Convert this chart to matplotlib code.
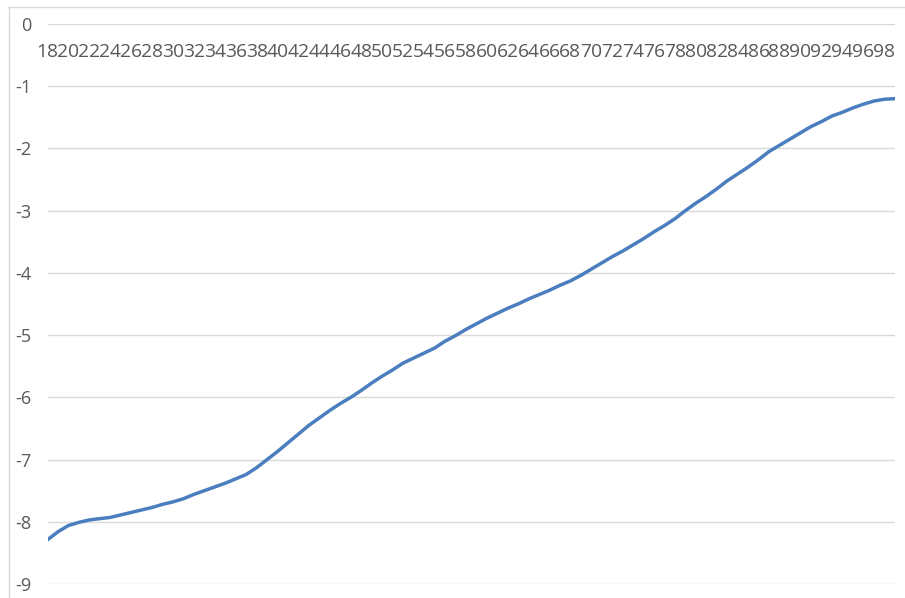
import matplotlib
matplotlib.use("Agg")
import matplotlib.pyplot as plt
from matplotlib.lines import Line2D

plt.rcParams["font.family"] = ["Open Sans", "DejaVu Sans"]
plt.rcParams["axes.unicode_minus"] = False

# Two-digit year categories along the horizontal axis
categories = list(range(18, 100))

values = [
    -8.29, -8.16, -8.06, -8.01, -7.97, -7.95, -7.93, -7.89, -7.85, -7.81,
    -7.77, -7.72, -7.68, -7.63, -7.56, -7.50, -7.44, -7.38, -7.31, -7.24,
    -7.13, -7.00, -6.87, -6.73, -6.59, -6.45, -6.33, -6.21, -6.10, -6.00,
    -5.89, -5.77, -5.66, -5.56, -5.45, -5.37, -5.29, -5.21, -5.10, -5.01,
    -4.91, -4.82, -4.73, -4.65, -4.57, -4.50, -4.42, -4.35, -4.28, -4.20,
    -4.13, -4.04, -3.94, -3.84, -3.74, -3.65, -3.55, -3.45, -3.34, -3.24,
    -3.13, -3.00, -2.88, -2.77, -2.65, -2.52, -2.41, -2.30, -2.18, -2.05,
    -1.95, -1.85, -1.75, -1.65, -1.57, -1.48, -1.42, -1.35, -1.29, -1.24,
    -1.21, -1.20,
]

x_ticks = categories[::2]
x_labels = [str(c) for c in x_ticks]
y_ticks = list(range(-9, 1))

W, H = 905, 598
fig = plt.figure(figsize=(W / 100, H / 100), dpi=100)
left, right, top, bottom = 47.5, 894.5, 24, 584
ax = fig.add_axes([left / W, 1 - bottom / H, (right - left) / W, (bottom - top) / H])

text_color = "#595959"
grid_color = "#D9D9D9"

ax.plot(categories, values, color="#4A7EBF", linewidth=2.5, solid_capstyle="round")

ax.set_xlim(categories[0], categories[-1])
ax.set_ylim(-9, 0)
ax.set_yticks(y_ticks)
ax.set_xticks(x_ticks)
ax.set_xticklabels(x_labels)

ax.grid(axis="y", color=grid_color, linewidth=1.0)
ax.set_axisbelow(True)
for s in ax.spines.values():
    s.set_visible(False)

ax.xaxis.tick_top()
ax.tick_params(axis="x", length=0, pad=-26.5, labelsize=13.9, labelcolor=text_color)
ax.tick_params(axis="y", length=0, pad=11.5, labelsize=13.1, labelcolor=text_color)

# Chart area frame along the top and left edges
fig.add_artist(Line2D([9 / W, 1], [1 - 7 / H, 1 - 7 / H], color=grid_color, linewidth=1.0,
                      transform=fig.transFigure))
fig.add_artist(Line2D([9 / W, 9 / W], [0, 1 - 7 / H], color=grid_color, linewidth=1.0,
                      transform=fig.transFigure))

fig.savefig("out.png", dpi=100, facecolor="white")
